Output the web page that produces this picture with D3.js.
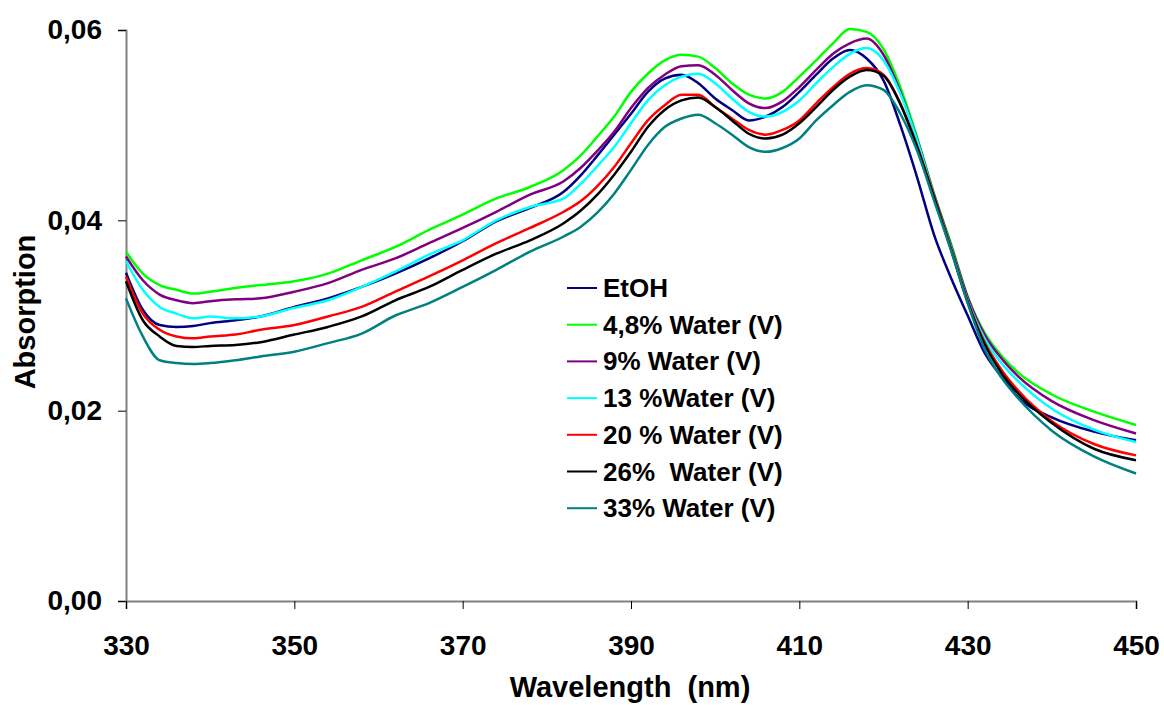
<!DOCTYPE html>
<html>
<head>
<meta charset="utf-8">
<script src="https://cdn.jsdelivr.net/npm/d3@7"></script>
<style>
  body { margin: 0; background: #fff; }
  text { font-family: "Liberation Sans", Arial, sans-serif; font-weight: bold; fill: #000; }
</style>
</head>
<body>
<div id="chart"></div>
<script>
// longitudes de onda (nm)
const wavelengths = [330, 332, 334, 336, 338, 340, 343, 346, 350, 354, 358, 362, 366, 370, 374, 378, 382, 384, 386, 388, 390, 392, 394, 396, 398, 400, 402, 404, 406, 408, 410, 412, 414, 416, 418, 420, 422, 424, 426, 428, 430, 432, 434, 436, 440, 445, 450];

// absorción por serie
const etoh = [0.0345, 0.0306, 0.0290, 0.0288, 0.0289, 0.0292, 0.0295, 0.0299, 0.0309, 0.0318, 0.0330, 0.0344, 0.0360, 0.0378, 0.0399, 0.0413, 0.0430, 0.0447, 0.0468, 0.0490, 0.0512, 0.0535, 0.0549, 0.0553, 0.0544, 0.0528, 0.0516, 0.0505, 0.0509, 0.0519, 0.0535, 0.0553, 0.0570, 0.0579, 0.0570, 0.0547, 0.0500, 0.0445, 0.0385, 0.0340, 0.0300, 0.0261, 0.0236, 0.0214, 0.0193, 0.0178, 0.0169];
const water48 = [0.0367, 0.0344, 0.0332, 0.0327, 0.0323, 0.0325, 0.0329, 0.0332, 0.0336, 0.0344, 0.0358, 0.0372, 0.0390, 0.0406, 0.0423, 0.0435, 0.0453, 0.0468, 0.0488, 0.0509, 0.0535, 0.0554, 0.0568, 0.0574, 0.0572, 0.0560, 0.0544, 0.0532, 0.0528, 0.0535, 0.0551, 0.0568, 0.0586, 0.0601, 0.0598, 0.0580, 0.0540, 0.0487, 0.0428, 0.0376, 0.0320, 0.0282, 0.0258, 0.0240, 0.0217, 0.0199, 0.0185];
const water9 = [0.0362, 0.0337, 0.0322, 0.0316, 0.0313, 0.0315, 0.0317, 0.0318, 0.0325, 0.0334, 0.0348, 0.0360, 0.0376, 0.0392, 0.0409, 0.0427, 0.0441, 0.0455, 0.0473, 0.0493, 0.0518, 0.0539, 0.0553, 0.0562, 0.0563, 0.0553, 0.0537, 0.0523, 0.0518, 0.0525, 0.0540, 0.0558, 0.0575, 0.0586, 0.0591, 0.0574, 0.0535, 0.0485, 0.0427, 0.0374, 0.0319, 0.0280, 0.0255, 0.0236, 0.0210, 0.0190, 0.0176];
const water13 = [0.0357, 0.0327, 0.0309, 0.0302, 0.0297, 0.0299, 0.0297, 0.0299, 0.0308, 0.0316, 0.0330, 0.0346, 0.0364, 0.0379, 0.0400, 0.0414, 0.0423, 0.0438, 0.0457, 0.0477, 0.0502, 0.0526, 0.0542, 0.0551, 0.0554, 0.0544, 0.0528, 0.0514, 0.0509, 0.0514, 0.0526, 0.0544, 0.0561, 0.0575, 0.0581, 0.0568, 0.0533, 0.0484, 0.0425, 0.0372, 0.0316, 0.0276, 0.0250, 0.0231, 0.0202, 0.0180, 0.0167];
const water20 = [0.0341, 0.0302, 0.0285, 0.0278, 0.0276, 0.0278, 0.0280, 0.0285, 0.0290, 0.0299, 0.0309, 0.0325, 0.0341, 0.0358, 0.0376, 0.0392, 0.0409, 0.0420, 0.0436, 0.0456, 0.0481, 0.0505, 0.0521, 0.0532, 0.0532, 0.0519, 0.0507, 0.0495, 0.0490, 0.0495, 0.0505, 0.0523, 0.0540, 0.0554, 0.0560, 0.0553, 0.0523, 0.0478, 0.0425, 0.0371, 0.0315, 0.0272, 0.0243, 0.0221, 0.0189, 0.0165, 0.0153];
const water26 = [0.0336, 0.0295, 0.0278, 0.0268, 0.0267, 0.0268, 0.0269, 0.0272, 0.0280, 0.0288, 0.0299, 0.0316, 0.0330, 0.0348, 0.0365, 0.0379, 0.0397, 0.0410, 0.0427, 0.0448, 0.0472, 0.0498, 0.0516, 0.0526, 0.0529, 0.0519, 0.0505, 0.0491, 0.0486, 0.0490, 0.0502, 0.0519, 0.0537, 0.0551, 0.0558, 0.0552, 0.0522, 0.0477, 0.0424, 0.0370, 0.0314, 0.0270, 0.0240, 0.0218, 0.0187, 0.0160, 0.0148];
const water33 = [0.0318, 0.0278, 0.0253, 0.0250, 0.0249, 0.0250, 0.0253, 0.0257, 0.0262, 0.0271, 0.0281, 0.0300, 0.0313, 0.0330, 0.0348, 0.0367, 0.0383, 0.0393, 0.0408, 0.0428, 0.0453, 0.0479, 0.0498, 0.0507, 0.0511, 0.0502, 0.0490, 0.0477, 0.0472, 0.0476, 0.0486, 0.0505, 0.0521, 0.0535, 0.0542, 0.0537, 0.0512, 0.0473, 0.0421, 0.0369, 0.0313, 0.0265, 0.0235, 0.0213, 0.0179, 0.0152, 0.0134];

const seriesNames = ["EtOH", "4,8% Water (V)", "9% Water (V)", "13 %Water (V)", "20 % Water (V)", "26%  Water (V)", "33% Water (V)"];
const seriesColors = ["#000080", "#00ff00", "#800080", "#00ffff", "#ff0000", "#000000", "#008080"];
const seriesValues = [etoh, water48, water9, water13, water20, water26, water33];

const xTicks = [330, 350, 370, 390, 410, 430, 450];
const yTicks = [0, 0.02, 0.04, 0.06];

const W = 1164, H = 705;
const margin = {top: 30, right: 28, bottom: 104, left: 126};

const svg = d3.select("#chart").append("svg")
    .attr("width", W)
    .attr("height", H);

const x = d3.scaleLinear().domain([330, 450]).range([margin.left, W - margin.right]);
const y = d3.scaleLinear().domain([0, 0.06]).range([H - margin.bottom, margin.top]);

const fmt = d => d3.format(".2f")(d).replace(".", ",");

// eje Y
const yAxis = svg.append("g")
    .attr("transform", "translate(" + margin.left + ",0)")
    .call(d3.axisLeft(y).tickValues(yTicks).tickFormat(fmt).tickSize(8).tickPadding(16));
yAxis.select(".domain").attr("stroke", "#808080").attr("stroke-width", 2);
yAxis.selectAll(".tick line").attr("stroke", "#000").attr("stroke-width", 1);
yAxis.selectAll("text").style("font-size", "28px").attr("fill", "#000");

// eje X
const xAxis = svg.append("g")
    .attr("transform", "translate(0," + (H - margin.bottom) + ")")
    .call(d3.axisBottom(x).tickValues(xTicks).tickFormat(d3.format("d")).tickSize(8).tickPadding(26));
xAxis.select(".domain").attr("stroke", "#808080").attr("stroke-width", 2);
xAxis.selectAll(".tick line").attr("stroke", "#000").attr("stroke-width", 1);
xAxis.selectAll("text").style("font-size", "28px").attr("fill", "#000");

// líneas
const line = d3.line()
    .x((d, i) => x(wavelengths[i]))
    .y(d => y(d))
    .curve(d3.curveMonotoneX);

svg.append("g").selectAll("path")
    .data(seriesValues)
    .enter().append("path")
    .attr("d", line)
    .attr("fill", "none")
    .attr("stroke", (d, i) => seriesColors[i])
    .attr("stroke-width", 2.5)
    .attr("stroke-linejoin", "round");

// títulos
svg.append("text")
    .attr("x", 630)
    .attr("y", 697)
    .attr("text-anchor", "middle")
    .style("font-size", "29px")
    .style("white-space", "pre")
    .text("Wavelength  (nm)");

svg.append("text")
    .attr("transform", "translate(35,312) rotate(-90)")
    .attr("text-anchor", "middle")
    .style("font-size", "29px")
    .text("Absorption");

// leyenda
const legend = svg.append("g").selectAll("g")
    .data(seriesNames)
    .enter().append("g")
    .attr("transform", (d, i) => "translate(567," + (288 + i * 36.7) + ")");

legend.append("line")
    .attr("x1", 0).attr("x2", 30)
    .attr("stroke", (d, i) => seriesColors[i])
    .attr("stroke-width", 2);

legend.append("text")
    .attr("x", 36)
    .attr("y", 9)
    .style("font-size", "26px")
    .style("white-space", "pre")
    .text(d => d);
</script>
</body>
</html>
